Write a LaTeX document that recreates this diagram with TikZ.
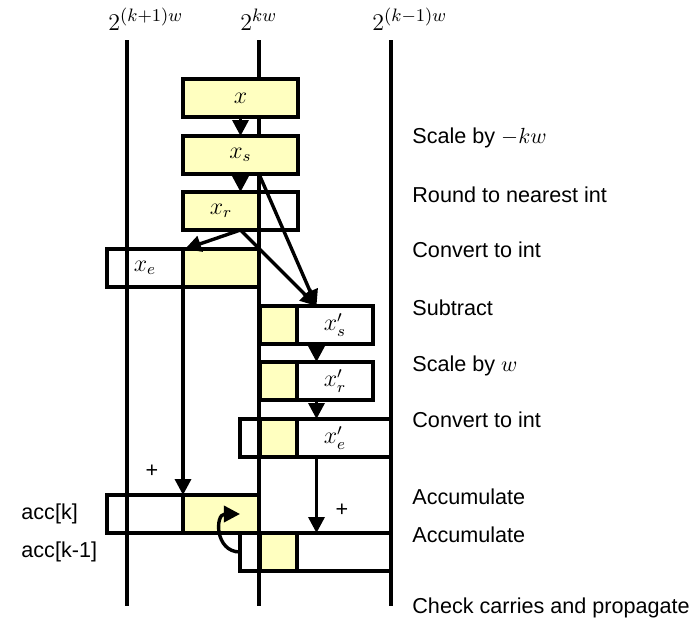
\documentclass[tikz,border=0pt]{standalone}
\usepackage{fontspec}
\setmainfont{Liberation Sans}
\usetikzlibrary{arrows.meta, positioning, calc}
\definecolor{cellyellow}{RGB}{255,255,192}

\begin{document}
\begin{tikzpicture} [x=0.5pt, y=-0.5pt,
            font=\fontsize{10.8}{13}\selectfont,
            cell/.style={draw, rectangle, line width=2pt,
                inner sep=0pt, outer sep=0pt, minimum height=19pt,
                font=\fontsize{11.5}{13}\selectfont},
            yel/.style={cell, fill=cellyellow},
            wht/.style={cell},
            flow/.style={line width=1.7pt,
                -{Triangle[length=8pt,width=8pt]}},
            wordline/.style={line width=1.7pt},
            toplabel/.style={inner sep=0pt,
                font=\fontsize{13}{15}\selectfont},
            steplabel/.style={anchor=west, inner sep=0pt}]

        \useasboundingbox (0,0) rectangle (693,623);

        % Word boundaries
        \coordinate (vA) at (127,40);
        \coordinate (vB) at (259,40);
        \coordinate (vC) at (391,40);
        \draw [wordline] (vA) -- (vA |- 0,606);
        \draw [wordline] (vB) -- (vB |- 0,606);
        \draw [wordline] (vC) -- (vC |- 0,606);

        \node (wA) [toplabel, above right=4.5pt and -9.5pt of vA] {$2^{(k+1)w}$};
        \node (wB) [toplabel, above right=4.5pt and -9.5pt of vB] {$2^{kw}$};
        \node (wC) [toplabel, above right=4.5pt and -9.5pt of vC] {$2^{(k-1)w}$};

        % x and x_s
        \node (x) [yel, minimum width=57.5pt] at (240.5,98) {$x$};
        \node (xs) [yel, minimum width=57.5pt] at (240.5,155) {$x_s$};

        % x_r
        \node (xrY) [yel, minimum width=38pt] at (221,211) {$x_r$};
        \node (xrW) [wht, minimum width=19.5pt, right=0pt of xrY] {};

        % x_e
        \node (xeW) [wht, minimum width=38pt] at (145,268) {$x_e$};
        \node (xeY) [yel, minimum width=38pt, right=0pt of xeW] {};

        % x'_s
        \node (xpsY) [yel, minimum width=18.5pt] at (278.5,325) {};
        \node (xpsW) [wht, minimum width=38pt, right=0pt of xpsY] {$x'_s$};

        % x'_r
        \node (xprY) [yel, minimum width=18.5pt] at (278.5,381) {};
        \node (xprW) [wht, minimum width=38pt, right=0pt of xprY] {$x'_r$};

        % x'_e
        \node (xpeL) [wht, minimum width=10pt] at (250,438) {};
        \node (xpeY) [yel, minimum width=18.5pt, right=0pt of xpeL] {};
        \node (xpeW) [wht, minimum width=47pt, right=0pt of xpeY,
            label={[xshift=-4.5pt, font=\fontsize{11.5}{13}\selectfont]center:$x'_e$}] {};

        % acc[k] and acc[k-1]
        \node (accW) [wht, minimum width=38pt] at (145,514) {};
        \node (accY) [yel, minimum width=38pt, right=0pt of accW] {};
        \node (accbL) [wht, minimum width=10pt] at (250,552) {};
        \node (accbY) [yel, minimum width=18.5pt, right=0pt of accbL] {};
        \node (accbW) [wht, minimum width=47pt, right=0pt of accbY] {};

        \node (acck) [steplabel] at (21,514) {acc[k]};
        \node (acck1) [steplabel] at (21,552) {acc[k-1]};

        \node (plusA) at (152,471) {+};
        \node (plusB) at (342,510) {+};

        % Arrows
        \coordinate (xrOut) at (xs.south |- xrY.south);
        \coordinate (xpsIn) at ($(xpsY.north west)!.5!(xpsW.north east)$);
        \draw [flow] (x) -- (xs);
        \draw [flow] (xs.south) -- (xs.south |- xrY.north);
        \draw [flow] (xrOut) -- ([xshift=1pt]xeY.north west);
        \draw [flow] (xrOut) -- (xpsIn);
        \draw [flow] (xs.south -| vB) -- (xpsIn);
        \draw [flow] (xpsIn |- xpsW.south) -- (xpsIn |- xprW.north);
        \draw [flow] (xpsIn |- xprW.south) -- (xpsIn |- xpeW.north);
        \draw [flow] (xpsIn |- xpeW.south) -- (xpsIn |- accbW.north);
        \draw [flow] (xeY.south west) -- (accY.north west);
        \draw [flow] (accbL.west) to [out=180, in=180, looseness=1.7]
            (accbL.west |- accY.center);

        % Steps
        \node (opScale) [steplabel] at (412,138) {Scale by $-kw$};
        \node (opRound) [steplabel] at (412,195) {Round to nearest int};
        \node (opConv) [steplabel] at (412,250) {Convert to int};
        \node (opSub) [steplabel] at (412,308) {Subtract};
        \node (opScaleW) [steplabel] at (412,366) {Scale by $w$};
        \node (opConvB) [steplabel] at (412,420) {Convert to int};
        \node (opAccA) [steplabel] at (412,497) {Accumulate};
        \node (opAccB) [steplabel] at (412,535) {Accumulate};
        \node (opCheck) [steplabel] at (412,608) {Check carries and propagate};
\end{tikzpicture}
\end{document}
